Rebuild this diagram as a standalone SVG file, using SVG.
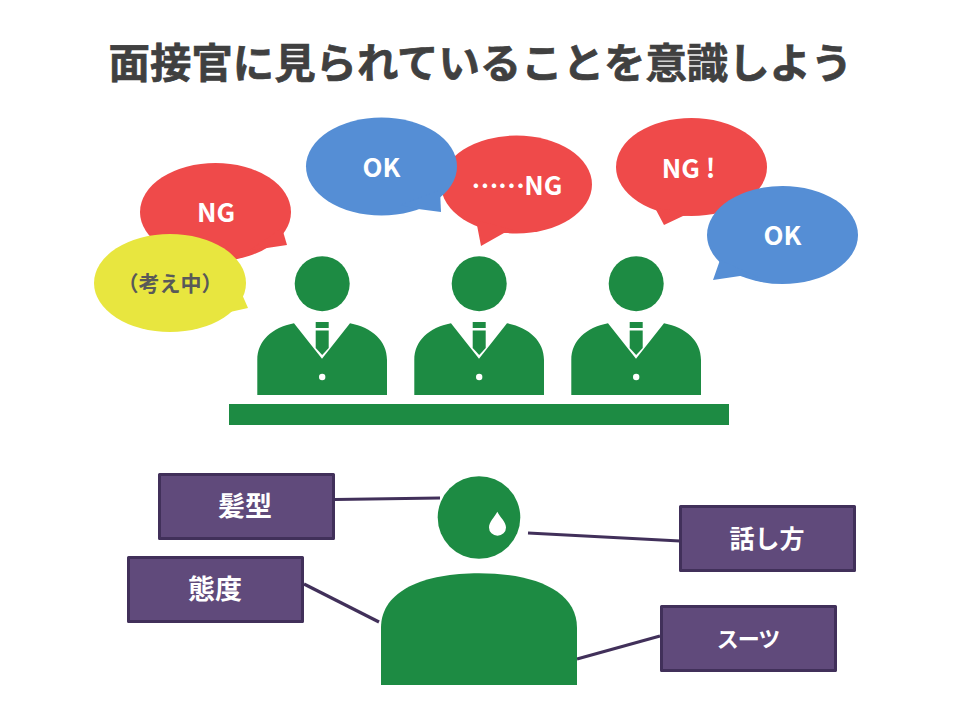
<svg xmlns="http://www.w3.org/2000/svg" xmlns:xlink="http://www.w3.org/1999/xlink" width="960" height="720" viewBox="0 0 960 720">
<style>
text{font-family:"Noto Sans CJK JP","Noto Sans",sans-serif;font-weight:700;text-anchor:middle}
.g{fill:#1d8b43}
.red{fill:#ef4a4a}.blue{fill:#558ed5}.yel{fill:#e8e63f}
.bt{font-size:26px;fill:#fff}
.box rect{fill:#604a7b;stroke:#41305a;stroke-width:3;stroke-linejoin:round}
.box text{font-size:27px;fill:#fff}
#connectors line{stroke:#41305a;stroke-width:3.2}
</style>
<defs>
<g id="person">
<circle class="g" cx="322.2" cy="283.7" r="27.5"/>
<path class="g" d="M294 323.3C272 327.5 257.3 341 257.3 360V395H387V360C387 341 372 327.5 350 323.3L322 358.7Z"/>
<circle cx="322.2" cy="377" r="3.2" fill="#fff"/>
<rect class="g" x="315.7" y="322" width="13" height="6"/>
<path class="g" d="M315.7 330.5H328.7V348L322.2 355L315.7 348Z"/>
</g>
</defs>
<text id="title" x="480.5" y="78" font-size="41.4" style="fill:#404040;stroke:#404040;stroke-width:.7">面接官に見られていることを意識しよう</text>
<g id="bubble-ng1"><ellipse class="red" cx="215.5" cy="212" rx="75.5" ry="49"/><path class="red" d="M282 228L287 245L267 248L250 250Z"/><text class="bt" x="216" y="222">NG</text></g>
<g id="bubble-thinking"><ellipse class="yel" cx="170" cy="283" rx="76" ry="49"/><path class="yel" d="M241 292L248 308L230 312L215 315Z"/><text x="170" y="291" font-size="21" style="fill:#595959">（考え中）</text></g>
<g id="bubble-ng2"><ellipse class="red" cx="516.5" cy="184.5" rx="75.5" ry="49"/><path class="red" d="M476 220L481 246L504 233L520 232Z"/><text class="bt" x="517" y="195"><tspan dy="-7" style="font-size:24px">……</tspan><tspan dy="7">NG</tspan></text></g>
<g id="bubble-ok1"><ellipse class="blue" cx="381.5" cy="166.5" rx="75.5" ry="49"/><path class="blue" d="M440 190L441 212L418 209L400 205Z"/><text class="bt" x="381.5" y="177">OK</text></g>
<g id="bubble-ng3"><ellipse class="red" cx="691.5" cy="167" rx="75.5" ry="49"/><path class="red" d="M655 208L664 225L683 216L700 214Z"/><text class="bt" x="688.5" y="178">NG !</text></g>
<g id="bubble-ok2"><ellipse class="blue" cx="782.5" cy="235" rx="75.5" ry="49"/><path class="blue" d="M720 260L713 280L740 276L760 278Z"/><text class="bt" x="782.5" y="245">OK</text></g>
<g id="person-1"><use xlink:href="#person" href="#person"/></g>
<g id="person-2"><use xlink:href="#person" href="#person" x="157"/></g>
<g id="person-3"><use xlink:href="#person" href="#person" x="314"/></g>
<rect id="desk" class="g" x="229" y="404" width="500" height="21"/>
<g id="connectors">
<line x1="335" y1="499.5" x2="440" y2="498"/>
<line x1="304" y1="584" x2="379" y2="622"/>
<line x1="528" y1="533" x2="680" y2="541"/>
<line x1="577" y1="659" x2="660" y2="636"/>
</g>
<g id="candidate">
<circle class="g" cx="479" cy="517.5" r="41.3"/>
<path d="M497.3 511.7C500 517 506 522 506 527.5A8.5 8.3 0 0 1 489 527.5C489 522 494.5 517 497.3 511.7Z" fill="#fff"/>
<path class="g" d="M381 685V628C381 590 425 573.3 479 573.3S577 590 577 628V685Z"/>
</g>
<g id="box-hair" class="box"><rect x="159.5" y="474.5" width="174" height="64"/><text x="245" y="516">髪型</text></g>
<g id="box-attitude" class="box"><rect x="128.5" y="557.5" width="174" height="64"/><text x="215" y="599">態度</text></g>
<g id="box-speech" class="box"><rect x="680.5" y="506.5" width="174" height="64"/><text x="767" y="548" style="font-size:25px">話し方</text></g>
<g id="box-suit" class="box"><rect x="661.5" y="606.5" width="174" height="64"/><text x="748" y="647" style="font-size:22px;letter-spacing:-1px">スーツ</text></g>
</svg>
